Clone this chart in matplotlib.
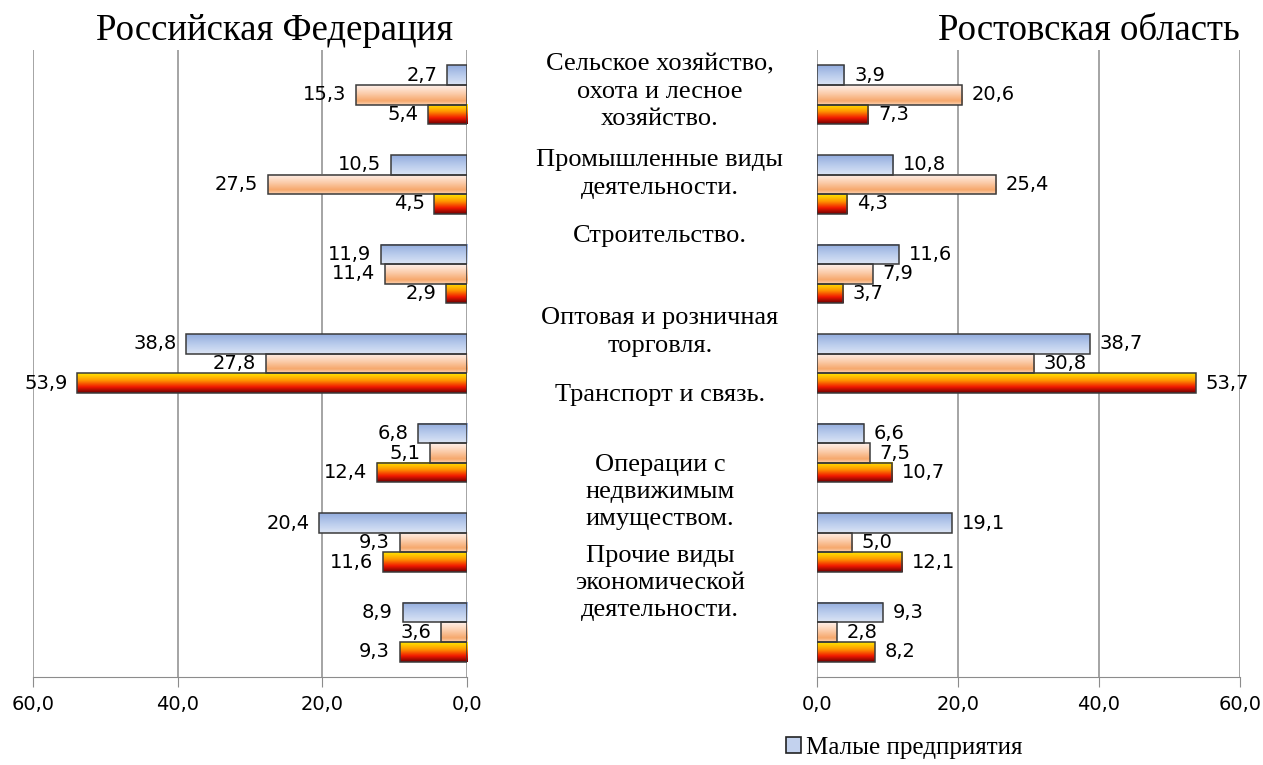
import numpy as np
import matplotlib
matplotlib.use("Agg")
import matplotlib.pyplot as plt
from matplotlib.colors import LinearSegmentedColormap
from matplotlib.patches import Patch

# data: three series per category (top bar to bottom bar)
series_names = ['Малые предприятия', 'Серия 2', 'Серия 3']
rf_small = [2.7, 10.5, 11.9, 38.8, 6.8, 20.4, 8.9]
rf_mid = [15.3, 27.5, 11.4, 27.8, 5.1, 9.3, 3.6]
rf_big = [5.4, 4.5, 2.9, 53.9, 12.4, 11.6, 9.3]
ro_small = [3.9, 10.8, 11.6, 38.7, 6.6, 19.1, 9.3]
ro_mid = [20.6, 25.4, 7.9, 30.8, 7.5, 5.0, 2.8]
ro_big = [7.3, 4.3, 3.7, 53.7, 10.7, 12.1, 8.2]

categories = ['Сельское хозяйство,\nохота и лесное\nхозяйство.',
              'Промышленные виды\nдеятельности.',
              'Строительство.',
              'Оптовая и розничная\nторговля.',
              'Транспорт и связь.',
              'Операции с\nнедвижимым\nимуществом.',
              'Прочие виды\nэкономической\nдеятельности.']
cat_label_y = [92, 174, 236, 332, 395, 492, 583]  # pixel rows of the middle labels

ticks = [0, 20, 40, 60]
tick_labels = ['0,0', '20,0', '40,0', '60,0']

W, H = 1263, 765
fig = plt.figure(figsize=(W / 100, H / 100), dpi=100)
serif = 'Liberation Serif'

cmaps = [
    LinearSegmentedColormap.from_list('b', ['#93acdd', '#b9cbec', '#dce5f5']),
    LinearSegmentedColormap.from_list('o', [(0, '#fff1ec'), (0.45, '#fbcaa6'),
                                            (0.8, '#f6a86c'), (1, '#fbd3b4')]),
    LinearSegmentedColormap.from_list('r', [(0, '#ffe600'), (0.35, '#ff9a00'),
                                            (0.7, '#f01800'), (1, '#700000')]),
]
grad = np.linspace(0, 1, 64).reshape(-1, 1)

bar_h = 0.218
offsets = [-bar_h, 0, bar_h]


def draw_panel(ax, groups, left_side):
    y = np.arange(len(categories))
    for k, vals in enumerate(groups):
        yy = y + offsets[k]
        bars = ax.barh(yy, vals, height=bar_h, facecolor='none',
                       edgecolor='#3a3a3a', linewidth=1.1, zorder=4)
        for b, v in zip(bars, vals):
            y0 = b.get_y()
            ax.imshow(grad, cmap=cmaps[k], aspect='auto', origin='upper',
                      extent=(0, v, y0 + bar_h, y0), zorder=3,
                      interpolation='bilinear')
            txt = f'{v:.1f}'.replace('.', ',')
            if left_side:
                ax.annotate(txt, (v, y0 + bar_h / 2), xytext=(-7, 0),
                            textcoords='offset points', ha='right', va='center',
                            fontsize=14, zorder=5)
            else:
                ax.annotate(txt, (v, y0 + bar_h / 2), xytext=(7, 0),
                            textcoords='offset points', ha='left', va='center',
                            fontsize=14, zorder=5)
    ax.set_ylim(len(categories) - 0.5, -0.5)
    if left_side:
        ax.set_xlim(60, 0)
    else:
        ax.set_xlim(0, 60)
    ax.set_xticks(ticks)
    ax.set_xticklabels(tick_labels, fontsize=14)
    ax.set_yticks([])
    for s in ['left', 'right', 'top']:
        ax.spines[s].set_visible(False)
    ax.spines['bottom'].set_color('#8c8c8c')
    ax.tick_params(axis='x', direction='out', length=7, color='#8c8c8c', pad=6)
    ax.grid(axis='x', color='#8c8c8c', linewidth=1.1, zorder=0)
    ax.set_axisbelow(True)
    ax.patch.set_alpha(0)


ax_l = fig.add_axes([33 / W, 1 - 677 / H, (467 - 33) / W, (677 - 50) / H])
ax_r = fig.add_axes([817 / W, 1 - 677 / H, (1240 - 817) / W, (677 - 50) / H])
draw_panel(ax_l, [rf_small, rf_mid, rf_big], True)
draw_panel(ax_r, [ro_small, ro_mid, ro_big], False)

fig.text(274 / W, 1 - 31 / H, 'Российская Федерация', ha='center', va='center',
         fontsize=26.5, family=serif)
fig.text(1089 / W, 1 - 31 / H, 'Ростовская область', ha='center', va='center',
         fontsize=26.5, family=serif)

for lab, py in zip(categories, cat_label_y):
    fig.text(660 / W, 1 - py / H, lab, ha='center', va='center', fontsize=19,
             family=serif, linespacing=1.3)

fig.legend(handles=[Patch(facecolor='#c3d2ee', edgecolor='#222222', linewidth=1.2)],
           labels=[series_names[0]], loc='center left',
           bbox_to_anchor=(786 / W, 1 - 748 / H), frameon=False,
           prop={'family': serif, 'size': 18}, handlelength=0.6, handleheight=0.6,
           handletextpad=0.2, borderaxespad=0, borderpad=0)

fig.savefig('out.png', dpi=100)
